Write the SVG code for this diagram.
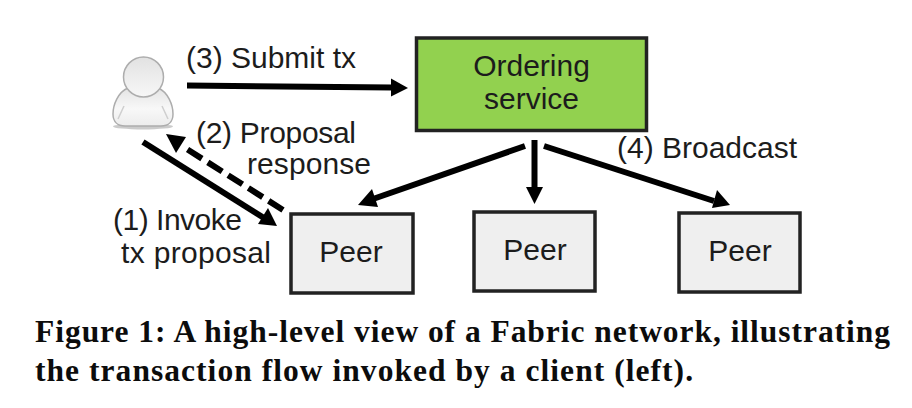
<svg xmlns="http://www.w3.org/2000/svg" width="912" height="408" viewBox="0 0 912 408">
<style>
.l{font-family:"Liberation Sans",Arial,sans-serif;font-size:30px;fill:#1c1c1c}
.c{font-family:"Liberation Serif","Times New Roman",serif;font-size:31.500px;font-weight:bold;fill:#0c0c0c}
.p{fill:#efefef;stroke:#222;stroke-width:3.5}
.a{fill:none;stroke:#000;stroke-width:6}
.h{fill:#000;stroke:none}
</style>
<defs>
<linearGradient id="g1" x1="0" y1="0" x2="0" y2="1"><stop offset="0" stop-color="#e4e4e4"/><stop offset=".55" stop-color="#f8f8f8"/><stop offset="1" stop-color="#ececec"/></linearGradient>
<linearGradient id="g2" x1="0" y1="0" x2="0" y2="1"><stop offset="0" stop-color="#e2e2e2"/><stop offset="1" stop-color="#f7f7f7"/></linearGradient>
</defs>
<rect width="912" height="408" fill="#fff"/>
<g id="connectors">
<path class="a" d="M187 85.500L392 87.500"/><polygon class="h" points="408,88 391,78.500 391,96.500"/>
<path class="a" d="M143 142L264 218"/><polygon class="h" points="277,226 258,224 268,208"/>
<path class="a" stroke-dasharray="17 7" d="M283 210L182 146"/><polygon class="h" points="166,134 186,137 176,153"/>
<path class="a" d="M525 146L373 199"/><polygon class="h" points="358,205 372,189 378,207"/>
<path class="a" d="M534.500 140L534.500 190"/><polygon class="h" points="534.500,204 526,187 543,187"/>
<path class="a" d="M544 146L714 201"/><polygon class="h" points="730,205 712,208 717,190"/>
</g>
<g id="client">
<ellipse cx="143" cy="126.500" rx="30" ry="3" fill="#b5b5b5" opacity=".7"/>
<path d="M128 88C118 92 113 105 113 114C113 122 118 126 125 126L161 126C168 126 173 122 173 114C173 105 168 92 158 88C150 95 136 95 128 88Z" fill="url(#g1)" stroke="#adadad" stroke-width="1.500"/>
<path d="M118 119L124 106M168 119L162 106" fill="none" stroke="#cfcfcf" stroke-width="1.500"/>
<circle cx="143.500" cy="77" r="20" fill="url(#g2)" stroke="#adadad" stroke-width="1.500"/>
</g>
<g id="ordering-service">
<rect x="416.500" y="38" width="230" height="92.500" fill="#92d14f" stroke="#222" stroke-width="3.500"/>
<text class="l" x="531.500" y="76" text-anchor="middle">Ordering</text>
<text class="l" x="531.500" y="109" text-anchor="middle">service</text>
</g>
<g id="peer-1"><rect class="p" x="291" y="214" width="122" height="79"/><text class="l" x="351" y="262" text-anchor="middle">Peer</text></g>
<g id="peer-2"><rect class="p" x="474" y="212" width="121" height="79"/><text class="l" x="535" y="260" text-anchor="middle">Peer</text></g>
<g id="peer-3"><rect class="p" x="679" y="213" width="121" height="79"/><text class="l" x="740" y="261" text-anchor="middle">Peer</text></g>
<g id="labels">
<text class="l" x="186" y="68" textLength="170">(3) Submit tx</text>
<text class="l" x="196" y="143" textLength="160">(2) Proposal</text>
<text class="l" x="247" y="174" textLength="124">response</text>
<text class="l" x="113" y="230" textLength="129">(1) Invoke</text>
<text class="l" x="121" y="263" textLength="150">tx proposal</text>
<text class="l" x="617" y="158" textLength="180">(4) Broadcast</text>
</g>
<g id="caption">
<text class="c" x="35" y="342" textLength="855" lengthAdjust="spacing">Figure 1: A high-level view of a Fabric network, illustrating</text>
<text class="c" x="35" y="381" textLength="658" lengthAdjust="spacing">the transaction flow invoked by a client (left).</text>
</g>
</svg>
